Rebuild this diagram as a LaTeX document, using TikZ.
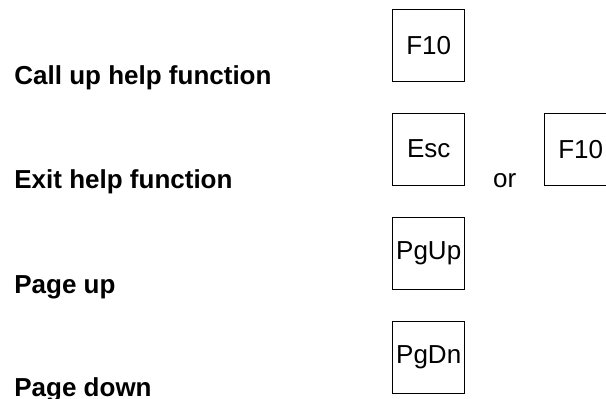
\documentclass[tikz,border=0pt]{standalone}
\usepackage{fontspec}
\setmainfont{Liberation Sans}
\usetikzlibrary{positioning}

\begin{document}
\begin{tikzpicture}[
    x=0.5pt, y=-0.5pt,
    keybox/.style={draw, line width=0.6pt, rectangle, minimum width=36pt, minimum height=36pt, inner sep=0pt, font=\fontsize{13}{15}\selectfont},
    label/.style={anchor=base west, inner sep=0pt, font=\fontsize{13}{15}\selectfont\bfseries},
    word/.style={anchor=base west, inner sep=0pt, font=\fontsize{13}{15}\selectfont}
]
    % Page frame (the right key runs off the edge)
    \clip (0,0) rectangle (606,398);

    % Call up help function
    \node[label] (callup) at (14,84) {Call up help function};
    \node[keybox] (keyhelp) at (428.7,45.1) {F10};

    % Exit help function
    \node[label] (exit) at (14,188) {Exit help function};
    \node[keybox] (keyesc) at (428.7,149.1) {Esc};
    \node[word] (or) at (492.7,187.7) {or};
    \node[keybox, right=76pt of keyesc.center, anchor=center] (keyexit) {F10};

    % Page up
    \node[label] (pgup) at (14,293) {Page up};
    \node[keybox] (keyup) at (428.7,253.5) {PgUp};

    % Page down
    \node[label] (pgdn) at (14,396) {Page down};
    \node[keybox] (keydn) at (428.7,357.2) {PgDn};

\end{tikzpicture}
\end{document}
